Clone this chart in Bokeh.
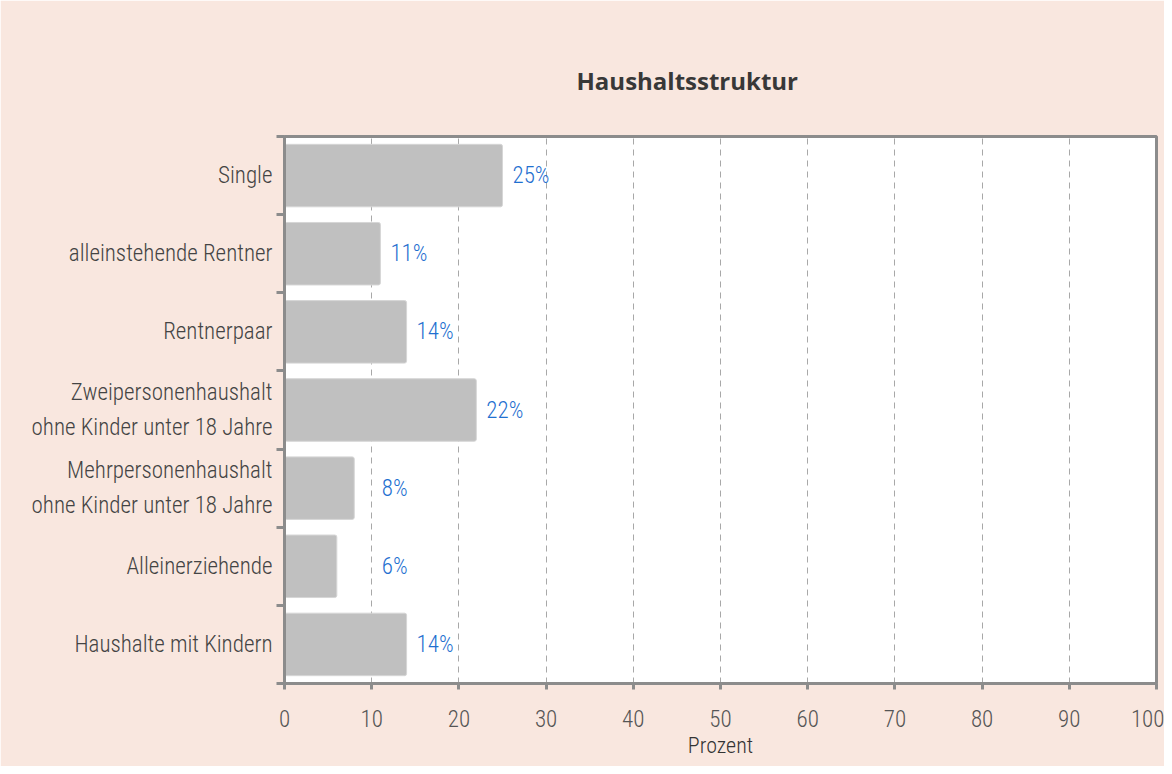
from bokeh.plotting import figure
from bokeh.models import Range1d, FixedTicker, ColumnDataSource
from bokeh.core.properties import value
from bokeh.embed import file_html
from bokeh.resources import INLINE

title_text = "Haushaltsstruktur"
categories = [
    "Single",
    "alleinstehende Rentner",
    "Rentnerpaar",
    "Zweipersonenhaushalt\nohne Kinder unter 18 Jahre",
    "Mehrpersonenhaushalt\nohne Kinder unter 18 Jahre",
    "Alleinerziehende",
    "Haushalte mit Kindern",
]
values = [25, 11, 14, 22, 8, 6, 14]
x_ticks = [0, 10, 20, 30, 40, 50, 60, 70, 80, 90, 100]
x_label = "Prozent"

n = len(categories)
ypos = [n - i - 0.5 for i in range(n)]
label_x = [max(v, 10) for v in values]
label_txt = [f"{v}%" for v in values]

FONT = "Roboto Condensed Light, Roboto Condensed, sans-serif"
BG = "#f9e7df"

src = ColumnDataSource(dict(y=ypos, v=values, lx=label_x, lt=label_txt))

p = figure(width=1164, height=766, output_backend="svg", toolbar_location=None,
           x_range=Range1d(0, 100), y_range=Range1d(0, n),
           min_border_left=284, min_border_right=8, min_border_top=136, min_border_bottom=83)
p.border_fill_color = BG
p.background_fill_color = "white"
p.outline_line_color = "#8c8c8c"
p.outline_line_width = 3

p.title.text = title_text
p.title.text_font = "Open Sans"
p.title.text_font_style = "bold"
p.title.text_font_size = "24px"
p.title.text_color = "#383838"
p.title.align = "left"
p.title.offset = 292
p.title.standoff = 80

p.hbar(y="y", right="v", left=0, height=0.8, source=src, fill_color="#c0c0c0",
       line_color="#d6d6d6", line_width=1, border_radius=2)
p.text(x="lx", y="y", text="lt", source=src, x_offset=10, text_baseline="middle",
       text_align="left", text_color="#1f70d0", text_font=value(FONT), text_font_size="23px")

# x axis
xa = p.xaxis[0]
xa.ticker = FixedTicker(ticks=x_ticks)
xa.axis_line_color = "#8c8c8c"
xa.axis_line_width = 3
xa.major_tick_line_color = "#8c8c8c"
xa.major_tick_line_width = 3
xa.major_tick_in = 0
xa.major_tick_out = 6
xa.minor_tick_line_color = None
xa.major_label_text_font = FONT
xa.major_label_text_font_size = "23px"
xa.major_label_text_color = "#555555"
xa.major_label_standoff = 20
xa.axis_label = x_label
xa.axis_label_text_font = FONT
xa.axis_label_text_font_size = "22px"
xa.axis_label_text_font_style = "normal"
xa.axis_label_text_color = "#333333"
xa.axis_label_standoff = 3

# y axis
ya = p.yaxis[0]
ya.ticker = FixedTicker(ticks=ypos, minor_ticks=list(range(n + 1)))
ya.major_label_overrides = {float(y): c for y, c in zip(ypos, categories)}
ya.axis_line_color = "#8c8c8c"
ya.axis_line_width = 3
ya.major_tick_line_color = None
ya.minor_tick_line_color = "#8c8c8c"
ya.minor_tick_line_width = 3
ya.minor_tick_in = 0
ya.minor_tick_out = 8
ya.major_label_text_font = FONT
ya.major_label_text_font_size = "23px"
ya.major_label_text_line_height = 1.27
ya.major_label_text_color = "#444444"
ya.major_label_standoff = 4

p.xgrid.grid_line_color = "#a8a8a8"
p.xgrid.grid_line_dash = "6 5"
p.xgrid.grid_line_width = 1
p.xgrid.ticker = FixedTicker(ticks=x_ticks)
p.ygrid.grid_line_color = None

open("out.html", "w").write(file_html(p, INLINE))
